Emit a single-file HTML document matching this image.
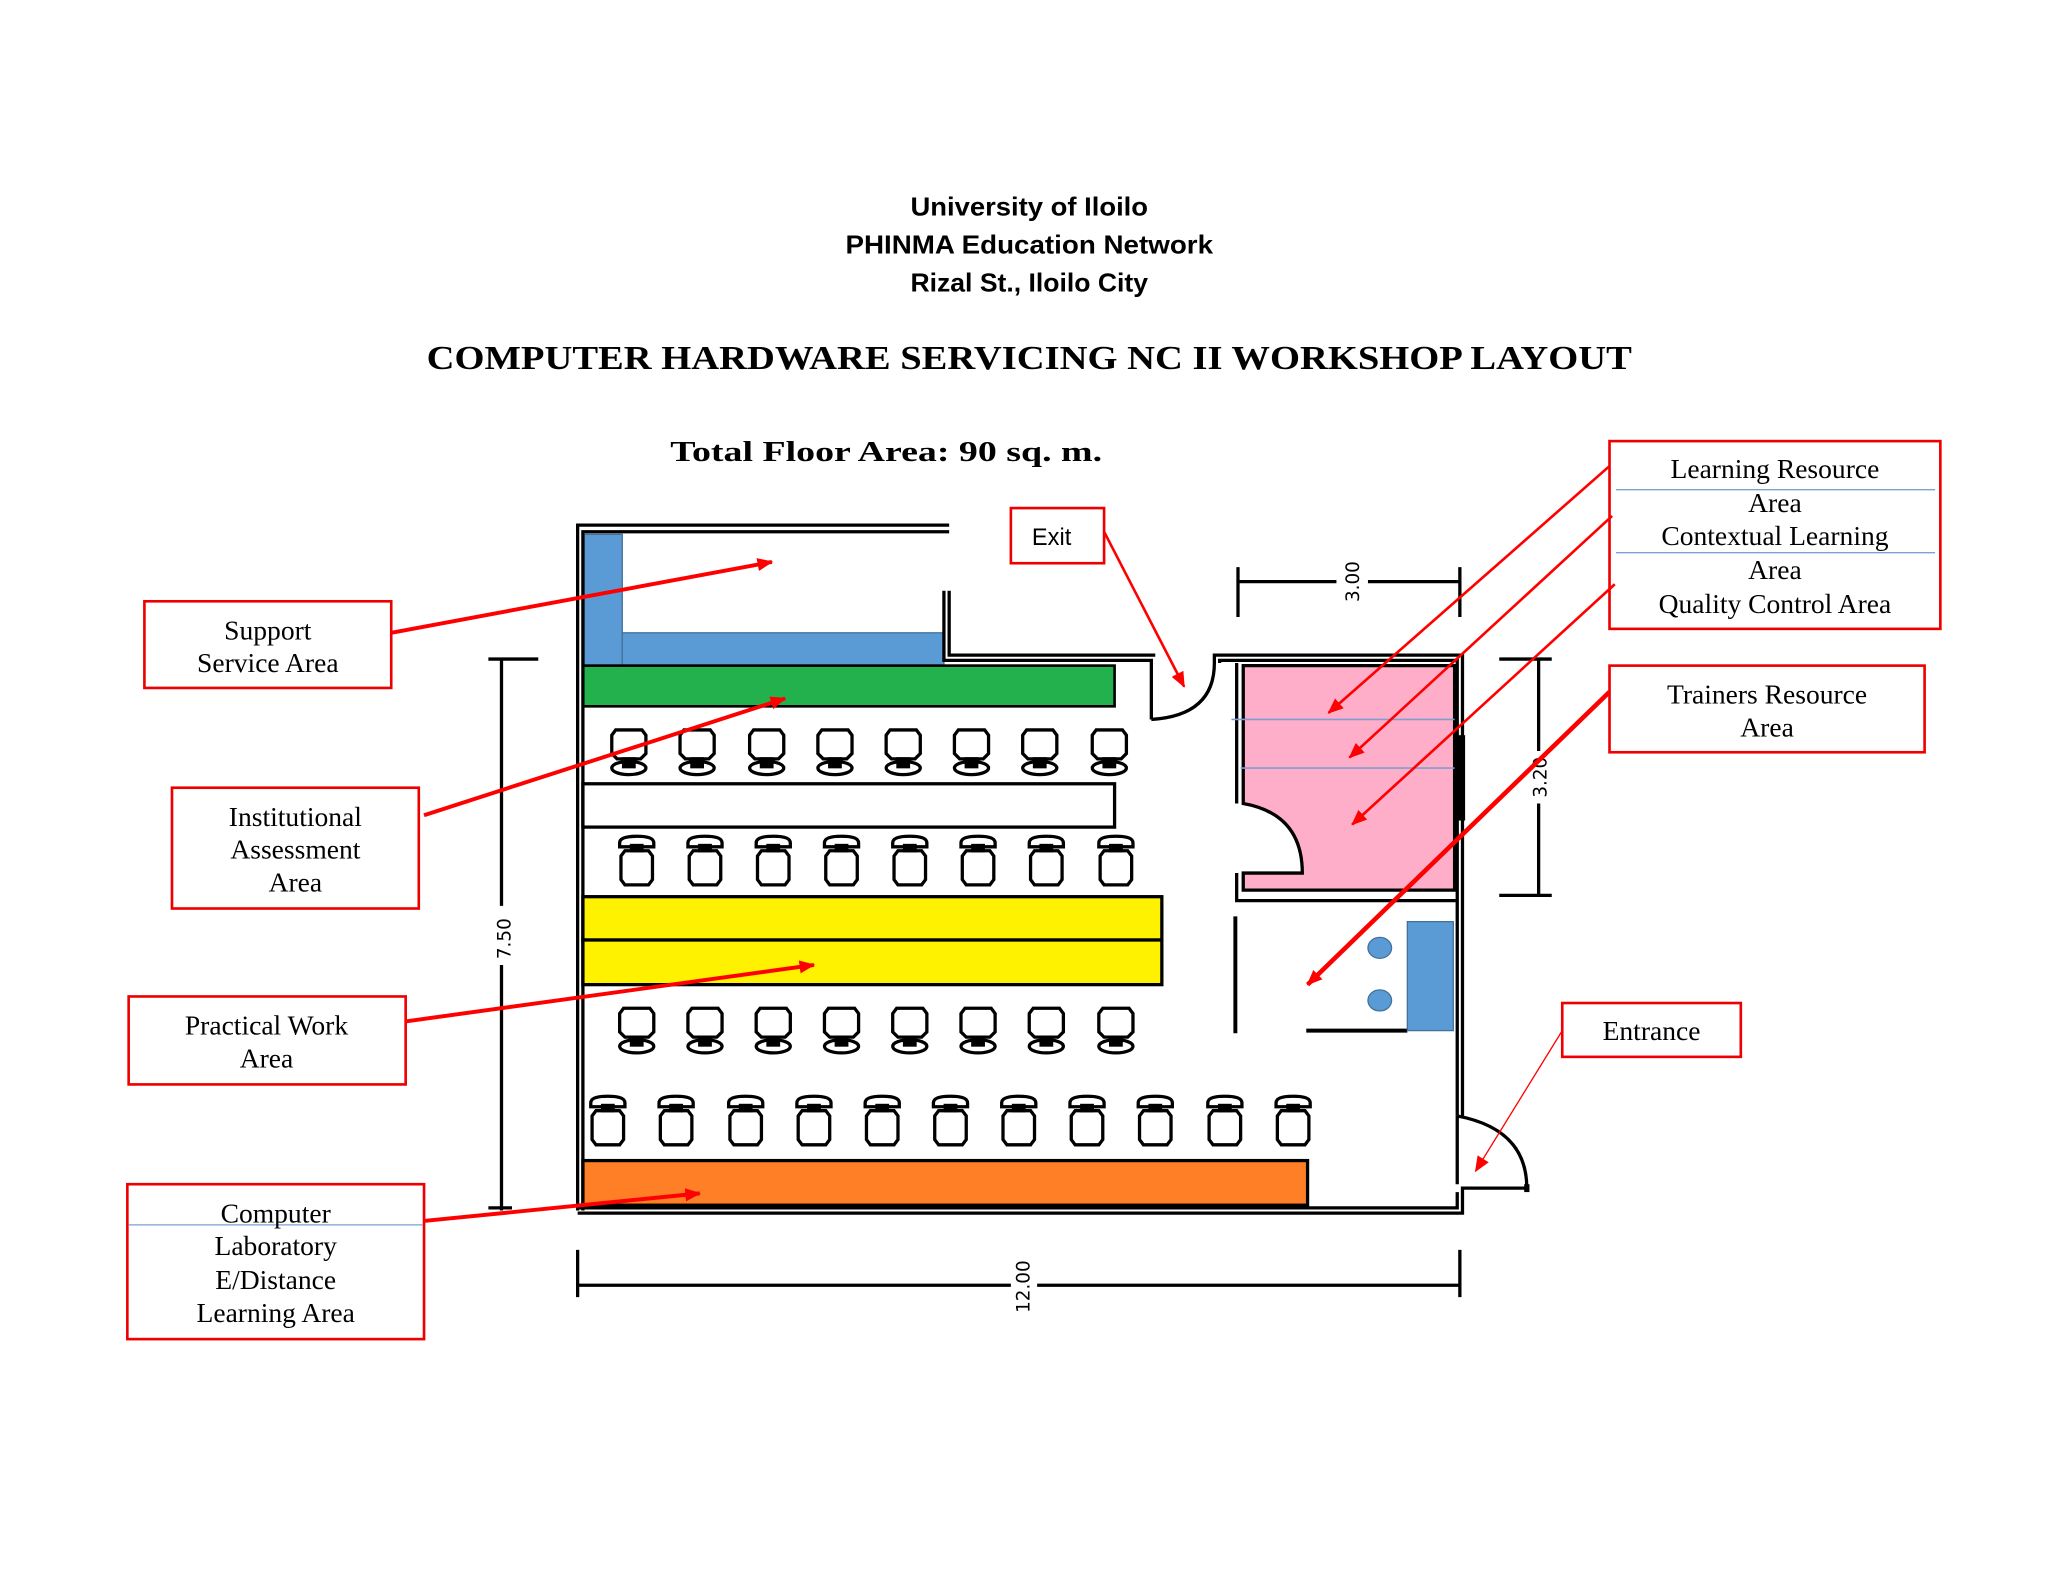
<!DOCTYPE html>
<html><head><meta charset="utf-8"><style>
html,body{margin:0;padding:0;background:#fff;}
svg{display:block}
.h{font-family:"Liberation Sans",sans-serif;font-weight:bold;font-size:20px;text-anchor:middle}
.t{font-family:"Liberation Serif",serif;font-weight:bold;text-anchor:middle}
.l{font-family:"Liberation Serif",serif;font-size:21px;text-anchor:middle}
.d{font-family:"DejaVu Sans",sans-serif;font-size:14px}
</style></head><body>
<svg width="2048" height="1582" viewBox="0 0 1560 1205" preserveAspectRatio="none" xmlns="http://www.w3.org/2000/svg">
<defs>
<marker id="ar2" markerWidth="12" markerHeight="10" refX="11" refY="5" orient="auto" markerUnits="userSpaceOnUse"><path d="M0,0 L12,5 L0,10 z" fill="#f00"/></marker>
<g id="ca" fill="none" stroke="#000" stroke-width="2.5">
<path d="M-10,0 h20 l3,4 v14 l-4,4 h-18 l-4,-4 v-14 z"/>
<ellipse cx="0" cy="29" rx="13" ry="5"/>
<rect x="-4" y="22" width="8" height="6" fill="#000"/>
</g>
<g id="cb" fill="none" stroke="#000" stroke-width="2.5">
<path d="M-13,2 q0,-5 13,-5 q13,0 13,5 v3 h-26 z"/>
<rect x="-4" y="4" width="8" height="4" fill="#000"/>
<path d="M-9,8 h18 l3,4 v18 l-3,4 h-18 l-3,-4 v-18 z"/>
</g>
</defs>
<text class="h" x="784" y="164" textLength="181" lengthAdjust="spacingAndGlyphs">University of Iloilo</text>
<text class="h" x="784" y="193" textLength="280" lengthAdjust="spacingAndGlyphs">PHINMA Education Network</text>
<text class="h" x="784" y="222" textLength="181" lengthAdjust="spacingAndGlyphs">Rizal St., Iloilo City</text>
<text class="t" x="784" y="281" font-size="26" textLength="918" lengthAdjust="spacingAndGlyphs">COMPUTER HARDWARE SERVICING NC II WORKSHOP LAYOUT</text>
<text class="t" x="675" y="351" font-size="22" textLength="329" lengthAdjust="spacingAndGlyphs">Total Floor Area: 90 sq. m.</text>

<rect x="445" y="407" width="29" height="100" fill="#5b9bd5" stroke="#41719c"/>
<rect x="474" y="482" width="245" height="25" fill="#5b9bd5" stroke="#41719c"/>
<rect x="444" y="507" width="405" height="31" fill="#22b14c" stroke="#000" stroke-width="2"/>
<rect x="444" y="597" width="405" height="33" fill="#fff" stroke="#000" stroke-width="2.5"/>
<rect x="444" y="683" width="441" height="33" fill="#fff200" stroke="#000" stroke-width="2.5"/>
<rect x="444" y="716" width="441" height="34" fill="#fff200" stroke="#000" stroke-width="2.5"/>
<rect x="444" y="884" width="552" height="34" fill="#ff7f27" stroke="#000" stroke-width="2.5"/>

<g fill="none" stroke="#000" stroke-width="2.5">
<path d="M440,922 V400 H723"/><path d="M444,922 V405 H723"/>
<path d="M719,450 V503 H877 V548"/><path d="M723,450 V499 H880"/>
<path d="M877,548 Q925,545 925,505 V499 H1114 V850"/><path d="M929,505 V503 H1110 V850"/>
<path d="M1110,850 Q1163,860 1163,905 H1114 V924 H440"/><path d="M1110,850 V902 M1110,908 V920 H440"/>
<path d="M1163,902 V908" stroke-width="4"/>
</g>
<path d="M947,507 H1108 V678 H947 V665 H992 Q992,620 947,612 Z" fill="#ffaec9" stroke="#000" stroke-width="2.5"/>
<path d="M942,505 V612 M942,665 V686 H1110" fill="none" stroke="#000" stroke-width="2.5"/>
<line x1="938" y1="548" x2="1108" y2="548" stroke="#7f9fd0" stroke-width="1.2"/>
<line x1="945" y1="585" x2="1108" y2="585" stroke="#7f9fd0" stroke-width="1.2"/>
<rect x="1111" y="560" width="5" height="65" fill="#000"/>
<line x1="941" y1="698" x2="941" y2="787" stroke="#000" stroke-width="3"/>
<line x1="995" y1="785" x2="1072" y2="785" stroke="#000" stroke-width="3"/>
<rect x="1072" y="702" width="35" height="83" fill="#5b9bd5" stroke="#41719c"/>
<ellipse cx="1051" cy="722" rx="9" ry="8" fill="#5b9bd5" stroke="#41719c"/>
<ellipse cx="1051" cy="762" rx="9" ry="8" fill="#5b9bd5" stroke="#41719c"/>

<g>
<use href="#ca" x="479" y="556"/><use href="#ca" x="531" y="556"/><use href="#ca" x="584" y="556"/><use href="#ca" x="636" y="556"/><use href="#ca" x="688" y="556"/><use href="#ca" x="740" y="556"/><use href="#ca" x="792" y="556"/><use href="#ca" x="845" y="556"/>
<use href="#cb" x="485" y="640"/><use href="#cb" x="537" y="640"/><use href="#cb" x="589" y="640"/><use href="#cb" x="641" y="640"/><use href="#cb" x="693" y="640"/><use href="#cb" x="745" y="640"/><use href="#cb" x="797" y="640"/><use href="#cb" x="850" y="640"/>
<use href="#ca" x="485" y="768"/><use href="#ca" x="537" y="768"/><use href="#ca" x="589" y="768"/><use href="#ca" x="641" y="768"/><use href="#ca" x="693" y="768"/><use href="#ca" x="745" y="768"/><use href="#ca" x="797" y="768"/><use href="#ca" x="850" y="768"/>
<use href="#cb" x="463" y="838"/><use href="#cb" x="515" y="838"/><use href="#cb" x="568" y="838"/><use href="#cb" x="620" y="838"/><use href="#cb" x="672" y="838"/><use href="#cb" x="724" y="838"/><use href="#cb" x="776" y="838"/><use href="#cb" x="828" y="838"/><use href="#cb" x="880" y="838"/><use href="#cb" x="933" y="838"/><use href="#cb" x="985" y="838"/>
</g>

<g stroke="#000" stroke-width="2.5" fill="none">
<path d="M382,502 V690 M382,735 V922 M372,502 H410 M372,920 H390"/>
<path d="M440,979 H770 M790,979 H1112 M440,952 V988 M1112,952 V988"/>
<path d="M943,443 H1018 M1042,443 H1112 M943,432 V470 M1112,432 V470"/>
<path d="M1172,502 V572 M1172,612 V682 M1142,502 H1182 M1142,682 H1182"/>
</g>
<text class="d" transform="translate(389,715) rotate(-90)" text-anchor="middle">7.50</text>
<text class="d" transform="translate(784,980) rotate(-90)" text-anchor="middle">12.00</text>
<text class="d" transform="translate(1035,443) rotate(-90)" text-anchor="middle">3.00</text>
<text class="d" transform="translate(1178,592) rotate(-90)" text-anchor="middle">3.20</text>

<g fill="#fff" stroke="#e00" stroke-width="2">
<rect x="110" y="458" width="188" height="66"/>
<rect x="131" y="600" width="188" height="92"/>
<rect x="98" y="759" width="211" height="67"/>
<rect x="97" y="902" width="226" height="118"/>
<rect x="770" y="387" width="71" height="42"/>
<rect x="1226" y="336" width="252" height="143"/>
<rect x="1226" y="507" width="240" height="66"/>
<rect x="1190" y="764" width="136" height="41"/>
</g>
<line x1="98" y1="933" x2="322" y2="933" stroke="#7f9fd0" stroke-width="1"/>
<line x1="1231" y1="373" x2="1474" y2="373" stroke="#7f9fd0" stroke-width="1"/>
<line x1="1231" y1="421" x2="1474" y2="421" stroke="#7f9fd0" stroke-width="1"/>
<text class="l" x="204" y="487">Support</text><text class="l" x="204" y="512">Service Area</text>
<text class="l" x="225" y="629">Institutional</text><text class="l" x="225" y="654">Assessment</text><text class="l" x="225" y="679">Area</text>
<text class="l" x="203" y="788">Practical Work</text><text class="l" x="203" y="813">Area</text>
<text class="l" x="210" y="931">Computer</text><text class="l" x="210" y="956">Laboratory</text><text class="l" x="210" y="982">E/Distance</text><text class="l" x="210" y="1007">Learning Area</text>
<text x="801" y="415" font-family="Liberation Sans,sans-serif" font-size="18" text-anchor="middle">Exit</text>
<text class="l" x="1352" y="364">Learning Resource</text><text class="l" x="1352" y="390">Area</text><text class="l" x="1352" y="415">Contextual Learning</text><text class="l" x="1352" y="441">Area</text><text class="l" x="1352" y="467">Quality Control Area</text>
<text class="l" x="1346" y="536">Trainers Resource</text><text class="l" x="1346" y="561">Area</text>
<text class="l" x="1258" y="792">Entrance</text>

<g stroke="#f00" stroke-width="3" fill="none" marker-end="url(#ar2)">
<line x1="298" y1="482" x2="588" y2="428"/>
<line x1="323" y1="621" x2="598" y2="532"/>
<line x1="309" y1="778" x2="620" y2="735"/>
<line x1="323" y1="930" x2="533" y2="909"/>
<line x1="841" y1="405" x2="902" y2="523" stroke-width="2"/>
<line x1="1226" y1="355" x2="1012" y2="543" stroke-width="2"/>
<line x1="1228" y1="393" x2="1028" y2="577" stroke-width="2"/>
<line x1="1230" y1="445" x2="1030" y2="628" stroke-width="2"/>
<line x1="1226" y1="527" x2="996" y2="750" stroke-width="3.5"/>
<line x1="1190" y1="785" x2="1124" y2="892" stroke-width="1"/>
</g>
</svg>
</body></html>
